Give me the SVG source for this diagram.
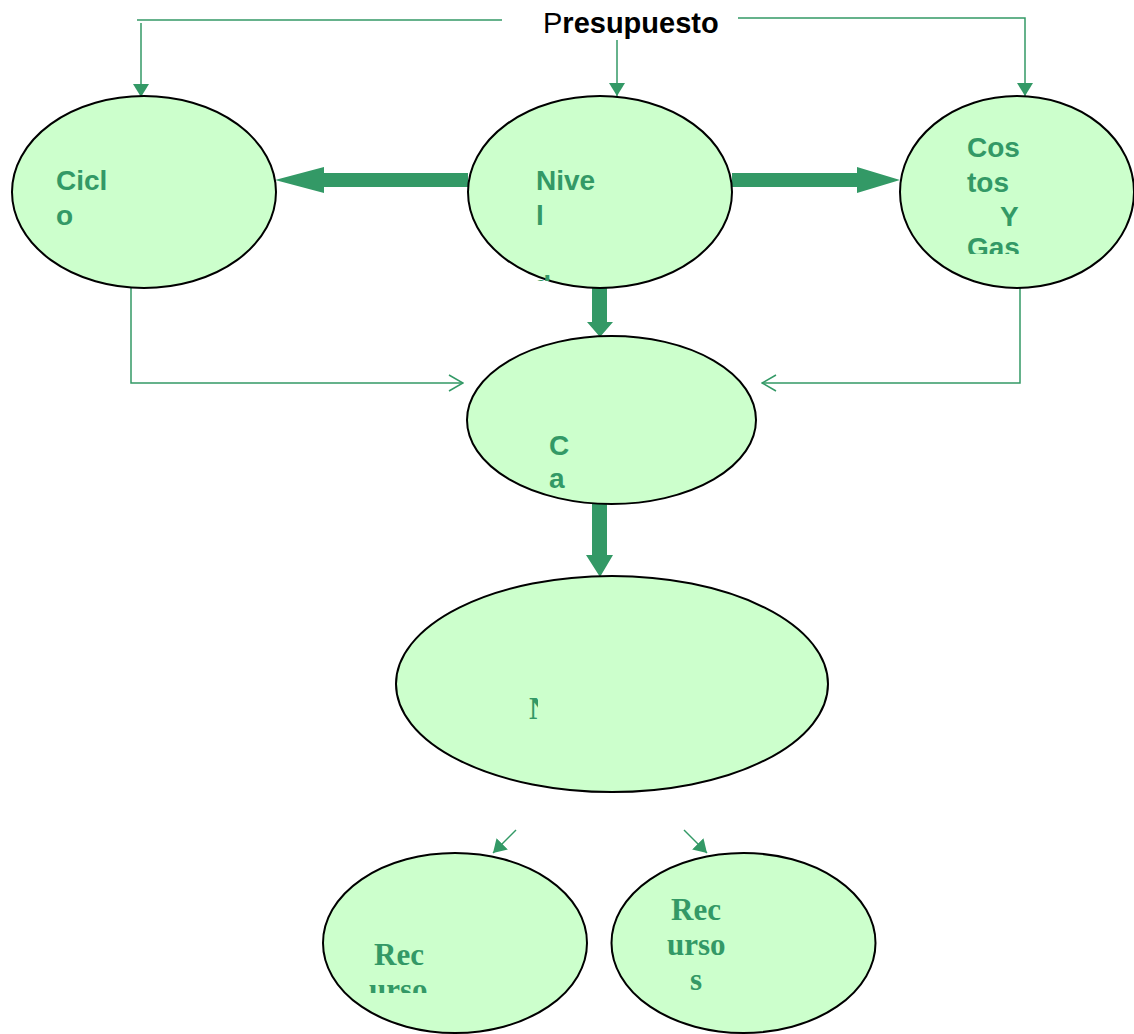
<svg xmlns="http://www.w3.org/2000/svg" width="1134" height="1034" viewBox="0 0 1134 1034">
<style>
.node{fill:#ccffcc;stroke:#000;stroke-width:2}
.thin{fill:none;stroke:#339966;stroke-width:1.5}
.thick{fill:#339966;stroke:none}
.ts{font-family:"Liberation Sans",Arial,sans-serif;font-weight:bold;font-size:28px;fill:#339966}
.tr{font-family:"Liberation Serif","Times New Roman",serif;font-weight:bold;font-size:31px;fill:#339966}
</style>
<defs>
<marker id="fa" markerWidth="14" markerHeight="16" refX="13" refY="8" orient="auto" markerUnits="userSpaceOnUse">
<path d="M0,0 L13,8 L0,16 z" fill="#339966"/>
</marker>
<marker id="oa" markerWidth="16" markerHeight="18" refX="15" refY="9" orient="auto" markerUnits="userSpaceOnUse">
<path d="M1,1 L15,9 L1,17" fill="none" stroke="#339966" stroke-width="1.5"/>
</marker>
<clipPath id="cNivel"><rect x="460" y="90" width="280" height="191"/></clipPath>
<clipPath id="cCostos"><rect x="900" y="90" width="234" height="164"/></clipPath>
<clipPath id="cN"><rect x="396" y="576" width="142" height="216"/></clipPath>
<clipPath id="cRec"><rect x="323" y="853" width="264" height="140"/></clipPath>
</defs>
<rect width="1134" height="1034" fill="#fff"/>

<g id="connectors">
<path class="thin" d="M137,20 H502"/>
<path class="thin" d="M141,23 V97" marker-end="url(#fa)"/>
<path class="thin" d="M617,40 V96" marker-end="url(#fa)"/>
<path class="thin" d="M738,18 H1025 V96" marker-end="url(#fa)"/>
<path class="thick" d="M468,173 H324 V167 L275,180 L324,193 V187 H468 z"/>
<path class="thick" d="M732,173 H857 V167 L900,180 L857,193 V187 H732 z"/>
<path class="thick" d="M592,287 H607 V322 H613 L600,337 L587,322 H592 z"/>
<path class="thick" d="M592,503 H607 V555 H613 L600,577 L586,555 H592 z"/>
<path class="thin" d="M131,287 V383 H463" marker-end="url(#oa)"/>
<path class="thin" d="M1020,287 V383 H762" marker-end="url(#oa)"/>
<path class="thin" d="M516,830 L493,853" marker-end="url(#fa)"/>
<path class="thin" d="M684,830 L707,853" marker-end="url(#fa)"/>
</g>

<g id="presupuesto">
<text x="543" y="33" font-family="Liberation Sans,Arial,sans-serif" font-size="29" fill="#000"><tspan>P</tspan><tspan font-weight="bold">resupuesto</tspan></text>
</g>

<g id="ciclo">
<ellipse class="node" cx="144" cy="192" rx="132" ry="96"/>
<text class="ts" x="56" y="190">Cicl</text>
<text class="ts" x="56" y="225">o</text>
</g>

<g id="nivel">
<ellipse class="node" cx="600" cy="192" rx="132" ry="96"/>
<g clip-path="url(#cNivel)">
<text class="ts" x="536" y="190">Nive</text>
<text class="ts" x="536" y="225">l</text>
<text class="ts" x="534" y="295">d</text>
</g>
</g>

<g id="costos">
<ellipse class="node" cx="1017" cy="192" rx="117" ry="96"/>
<g clip-path="url(#cCostos)">
<text class="ts" x="967" y="157">Cos</text>
<text class="ts" x="967" y="192">tos</text>
<text class="ts" x="1000" y="226">Y</text>
<text class="ts" x="967" y="257">Gas</text>
</g>
</g>

<g id="ca">
<ellipse class="node" cx="611.5" cy="420" rx="144.5" ry="84"/>
<text class="ts" x="549" y="455">C</text>
<text class="ts" x="549" y="488">a</text>
</g>

<g id="n">
<ellipse class="node" cx="612" cy="684" rx="216" ry="108"/>
<g clip-path="url(#cN)">
<text class="tr" x="529" y="719">N</text>
</g>
</g>

<g id="recursos1">
<ellipse class="node" cx="455" cy="943" rx="132" ry="90"/>
<g clip-path="url(#cRec)">
<text class="tr" x="374" y="965">Rec</text>
<text class="tr" x="369" y="1000">urso</text>
</g>
</g>

<g id="recursos2">
<ellipse class="node" cx="743.5" cy="943" rx="132" ry="90"/>
<text class="tr" x="671" y="920">Rec</text>
<text class="tr" x="667" y="955">urso</text>
<text class="tr" x="690" y="990">s</text>
</g>
</svg>
